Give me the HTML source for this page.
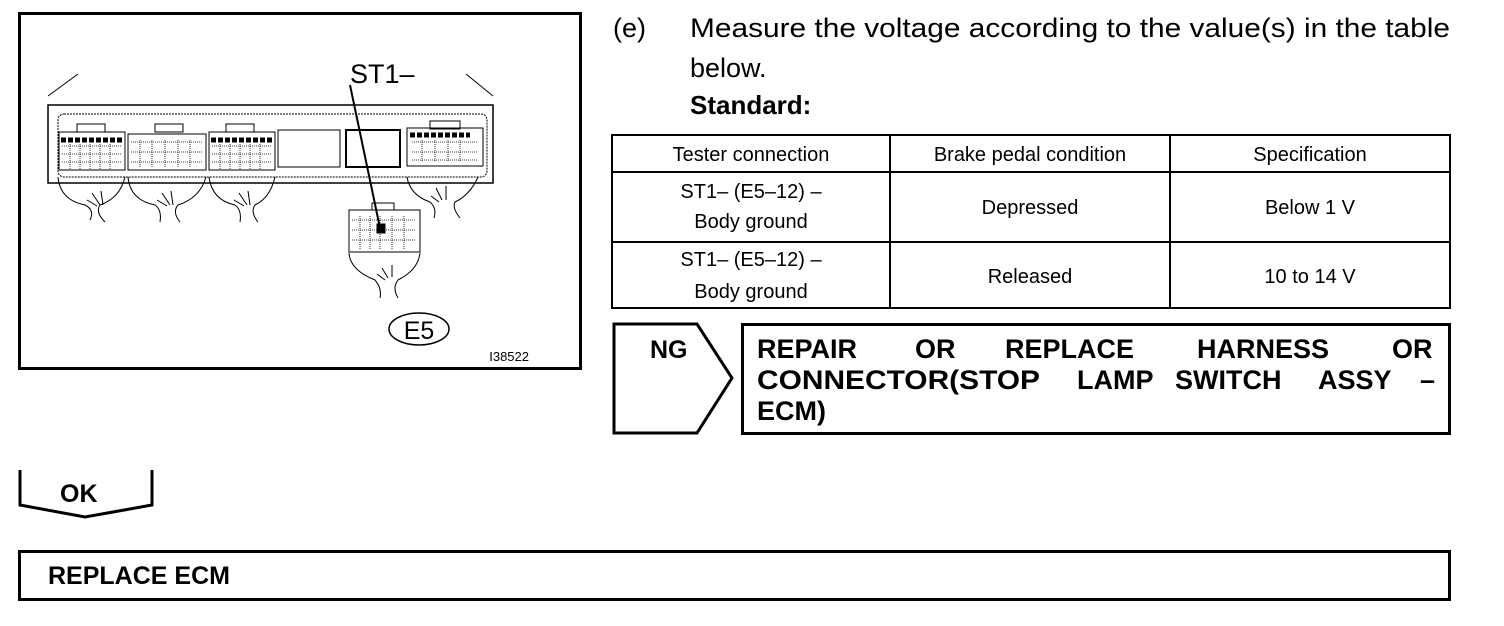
<!DOCTYPE html>
<html><head><meta charset="utf-8"><style>
html,body{margin:0;padding:0;background:#fff;}
svg{display:block;font-family:"Liberation Sans",Arial,sans-serif;}
</style></head><body>
<svg width="1504" height="626" viewBox="0 0 1504 626" xmlns="http://www.w3.org/2000/svg">
<rect x="19.5" y="13.5" width="561" height="355" fill="none" stroke="#000" stroke-width="3"/>
<g fill="none" stroke="#000" stroke-width="1">
<line x1="48" y1="96" x2="78" y2="74"/>
<line x1="493" y1="96" x2="466" y2="74"/>
<rect x="48" y="105" width="445" height="78" stroke-width="1.5"/>
<rect x="58" y="114" width="429" height="63" rx="6" stroke-dasharray="2,1"/>
<g stroke-width="1">
<rect x="59" y="132" width="66" height="38"/><rect x="77" y="124" width="28" height="8"/>
<rect x="128" y="134" width="78" height="36"/><rect x="155" y="124" width="28" height="8"/>
<rect x="209" y="132" width="66" height="38"/><rect x="226" y="124" width="28" height="8"/>
<rect x="407" y="128" width="76" height="38"/><rect x="430" y="121" width="30" height="8"/>
</g>
<g stroke="#000" stroke-width="5">
<line x1="61" y1="140" x2="123" y2="140" stroke-dasharray="5,2"/>
<line x1="211" y1="140" x2="273" y2="140" stroke-dasharray="5,2"/>
<line x1="410" y1="135" x2="470" y2="135" stroke-dasharray="5,2"/>
</g>
<g stroke-width="0.8" stroke-dasharray="1,1">
<path d="M62 146h60M62 154h60M62 162h60M70 144v25M80 144v25M90 144v25M100 144v25M110 144v25"/>
<path d="M131 142h72M131 152h72M131 162h72M140 140v28M152 140v28M165 140v28M178 140v28M190 140v28"/>
<path d="M212 146h60M212 154h60M212 162h60M220 144v25M230 144v25M240 144v25M250 144v25M260 144v25"/>
<path d="M412 142h66M412 152h66M412 160h66M422 140v22M435 140v22M448 140v22M460 140v22"/>
</g>
<rect x="278" y="130" width="62" height="37"/>
<rect x="346" y="130" width="54" height="37" stroke-width="2"/>
<path d="M58 177 Q60 200 85 205 Q95 210 90 220M125 177 Q120 198 100 205 Q95 212 105 222"/>
<path d="M128 177 Q130 200 155 205 Q162 210 160 222M206 177 Q200 198 178 205 Q172 212 180 222"/>
<path d="M209 177 Q212 200 235 205 Q242 210 240 222M275 177 Q270 198 255 205 Q250 212 258 222"/>
<path d="M407 177 Q410 195 430 202 Q437 208 434 218M478 177 Q470 195 455 202 Q452 208 460 218"/>
<path d="M100 205l-8 -12M103 205l-2 -14M97 206l-10 -6M170 205l-8 -12M173 205l-2 -14M167 206l-10 -6M247 205l-8 -12M250 205l-2 -14M244 206l-10 -6M442 200l-6 -12M446 200l0 -14M439 202l-8 -6"/>
<rect x="349" y="210" width="71" height="42"/><rect x="372" y="203" width="22" height="7"/>
<g stroke-width="0.8" stroke-dasharray="1,1"><path d="M352 220h64M352 230h64M352 240h64M360 216v34M370 216v34M380 216v34M392 216v34M404 216v34"/></g>
<rect x="377" y="224" width="8" height="9" fill="#000"/>
<path d="M349 253 Q350 270 375 280 Q382 288 380 298M420 253 Q418 270 398 280 Q392 288 398 298"/>
<path d="M388 278l-6 -10M392 277l0 -12M385 280l-8 -6"/>
<line x1="350" y1="85" x2="380" y2="228" stroke-width="2"/>
<ellipse cx="419" cy="329" rx="30" ry="16" stroke-width="1.5"/>
</g>
<text x="350" y="83" font-size="27">ST1–</text>
<text x="419" y="339" font-size="25" text-anchor="middle">E5</text>
<text x="529" y="361" font-size="13" text-anchor="end">I38522</text>

<text x="613" y="37" font-size="27">(e)</text>
<text x="690" y="37" font-size="27" textLength="760" lengthAdjust="spacingAndGlyphs">Measure the voltage according to the value(s) in the table</text>
<text x="690" y="77" font-size="27">below.</text>
<text x="690" y="114" font-size="26" font-weight="bold">Standard:</text>

<g fill="none" stroke="#000" stroke-width="2">
<rect x="612" y="135" width="838" height="173"/>
<line x1="890" y1="135" x2="890" y2="308"/><line x1="1170" y1="135" x2="1170" y2="308"/>
<line x1="612" y1="172" x2="1450" y2="172"/><line x1="612" y1="242" x2="1450" y2="242"/>
</g>
<g font-size="20" text-anchor="middle">
<text x="751" y="161">Tester connection</text>
<text x="1030" y="161">Brake pedal condition</text>
<text x="1310" y="161">Specification</text>
<text x="751" y="198">ST1– (E5–12) –</text>
<text x="751" y="228">Body ground</text>
<text x="1030" y="214">Depressed</text>
<text x="1310" y="214">Below 1 V</text>
<text x="751" y="266">ST1– (E5–12) –</text>
<text x="751" y="298">Body ground</text>
<text x="1030" y="283">Released</text>
<text x="1310" y="283">10 to 14 V</text>
</g>

<path d="M614 324H697L732 378L697 433H614Z" fill="none" stroke="#000" stroke-width="3"/>
<text x="650" y="358" font-size="25" font-weight="bold">NG</text>
<rect x="742.5" y="324.5" width="707" height="109" fill="none" stroke="#000" stroke-width="3"/>
<g font-size="27" font-weight="bold">
<text x="757" y="358">REPAIR</text>
<text x="915" y="358">OR</text>
<text x="1005" y="358">REPLACE</text>
<text x="1197" y="358">HARNESS</text>
<text x="1392" y="358">OR</text>
<text x="757" y="389" textLength="283" lengthAdjust="spacingAndGlyphs">CONNECTOR(STOP</text>
<text x="1077" y="389">LAMP</text>
<text x="1175" y="389">SWITCH</text>
<text x="1318" y="389">ASSY</text>
<text x="1420" y="389">–</text>
<text x="757" y="420">ECM)</text>
</g>

<path d="M20 470V505L85 517L152 505V470" fill="none" stroke="#000" stroke-width="3"/>
<text x="60" y="502" font-size="25" font-weight="bold">OK</text>

<rect x="19.5" y="551.5" width="1430" height="48" fill="none" stroke="#000" stroke-width="3"/>
<text x="48" y="584" font-size="25" font-weight="bold">REPLACE ECM</text>
</svg>
</body></html>
